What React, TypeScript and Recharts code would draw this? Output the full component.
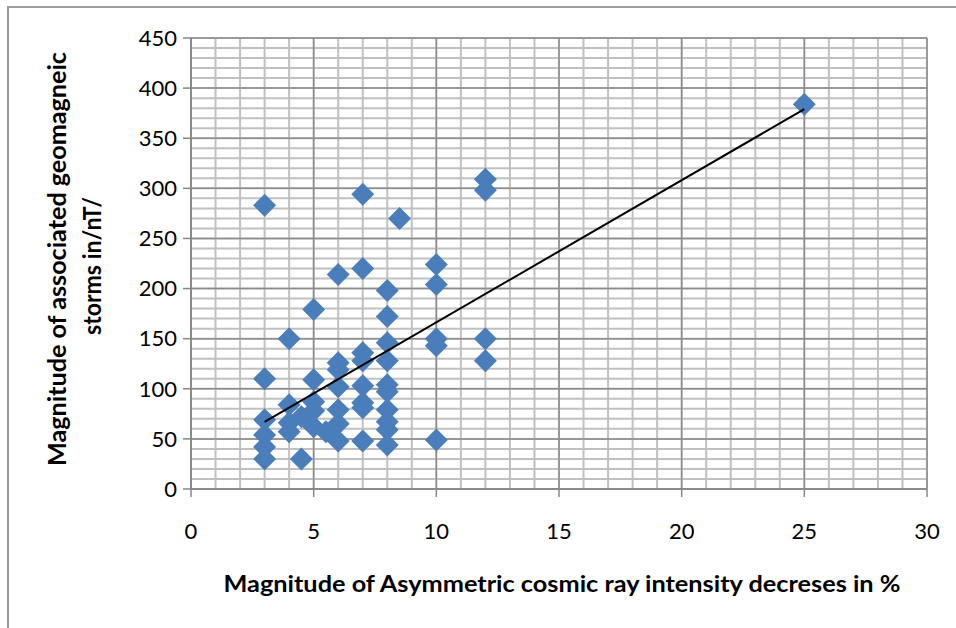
import React from 'react';
import { ScatterChart, Scatter, XAxis, YAxis, CartesianGrid, Label } from 'recharts';

// asymmetric cosmic ray decrease (%) and storm magnitude (nT)
const decreasePct = [
  3, 3, 3, 3, 3, 3,
  4, 4, 4, 4,
  4.5, 4.5,
  5, 5, 5, 5, 5,
  5.5,
  6, 6, 6, 6, 6, 6, 6,
  7, 7, 7, 7, 7, 7, 7, 7,
  8, 8, 8, 8, 8, 8, 8, 8, 8, 8,
  8.5,
  10, 10, 10, 10, 10,
  12, 12, 12, 12,
  25,
];
const stormNT = [
  283, 110, 69, 54, 42, 30,
  150, 84, 66, 57,
  72, 30,
  179, 109, 87, 78, 62,
  57,
  214, 126, 119, 102, 79, 65, 48,
  294, 220, 136, 128, 103, 86, 81, 48,
  198, 172, 146, 128, 104, 97, 79, 67, 59, 44,
  270,
  224, 204, 150, 143, 49,
  309, 298, 150, 128,
  384,
];

// linear trend line end points
const trendX = [3, 25];
const trendY = [67, 379];

const xTicks = [0, 5, 10, 15, 20, 25, 30];
const yTicks = [0, 50, 100, 150, 200, 250, 300, 350, 400, 450];
const xMinor = Array.from({ length: 31 }, (_, i) => i);
const yMinor = Array.from({ length: 46 }, (_, i) => i * 10);

const points = decreasePct.map((x, i) => ({ x, y: stormNT[i] }));
const trend = trendX.map((x, i) => ({ x, y: trendY[i] }));

const FONT = 'Lato, "Open Sans", sans-serif';

const Diamond = (props: any) => {
  const { cx, cy } = props;
  const r = 11.5;
  return (
    <polygon
      points={`${cx},${cy - r} ${cx + r},${cy} ${cx},${cy + r} ${cx - r},${cy}`}
      fill="#4a7ebb"
    />
  );
};

const YTitle = () => (
  <g fontFamily={FONT} fontWeight={700} fontSize={24} fill="#000">
    <text
      transform="translate(66,259) rotate(-90)"
      textAnchor="middle"
      textLength={414}
      lengthAdjust="spacingAndGlyphs"
    >
      Magnitude of associated geomagneic
    </text>
    <text
      transform="translate(101,266) rotate(-90)"
      textAnchor="middle"
      textLength={138}
      lengthAdjust="spacingAndGlyphs"
    >
      storms in/nT/
    </text>
  </g>
);

const XTitle = () => (
  <text
    x={562}
    y={592}
    textAnchor="middle"
    fontFamily={FONT}
    fontWeight={700}
    fontSize={23}
    fill="#000"
    textLength={677}
    lengthAdjust="spacingAndGlyphs"
  >
    Magnitude of Asymmetric cosmic ray intensity  decreses in %
  </text>
);

export default function App() {
  return (
    <div style={{ position: 'absolute', left: 0, top: 0, width: 956, height: 628, background: '#fff', overflow: 'hidden' }}>
      <div
        style={{
          position: 'absolute',
          left: 7,
          top: 6,
          width: 960,
          height: 640,
          borderLeft: '2px solid #9c9c9c',
          borderTop: '2px solid #9c9c9c',
        }}
      />
      <ScatterChart
        width={956}
        height={628}
        margin={{ top: 38, right: 29, bottom: 109, left: 0 }}
        style={{ position: 'absolute', left: 0, top: 0 }}
      >
        <CartesianGrid verticalValues={xMinor} horizontalValues={yMinor} stroke="#c0c0c0" strokeWidth={2} />
        <CartesianGrid verticalValues={xTicks} horizontalValues={yTicks} stroke="#8c8c8c" strokeWidth={1.5} />
        <XAxis
          type="number"
          dataKey="x"
          domain={[0, 30]}
          ticks={xTicks}
          interval={0}
          height={30}
          tickSize={8}
          tickMargin={26}
          tick={{ fill: '#000', fontSize: 22, fontFamily: FONT }}
          stroke="#868686"
          strokeWidth={1.5}
          allowDataOverflow
        >
          <Label content={<XTitle />} />
        </XAxis>
        <YAxis
          type="number"
          dataKey="y"
          domain={[0, 450]}
          ticks={yTicks}
          interval={0}
          width={191}
          tickSize={8}
          tickMargin={6}
          tick={{ fill: '#000', fontSize: 22, fontFamily: FONT }}
          stroke="#868686"
          strokeWidth={1.5}
          allowDataOverflow
        >
          <Label content={<YTitle />} />
        </YAxis>
        <Scatter data={points} shape={<Diamond />} isAnimationActive={false} />
        <Scatter
          data={trend}
          line={{ stroke: '#000', strokeWidth: 2 }}
          shape={() => <g />}
          isAnimationActive={false}
        />
      </ScatterChart>
    </div>
  );
}
